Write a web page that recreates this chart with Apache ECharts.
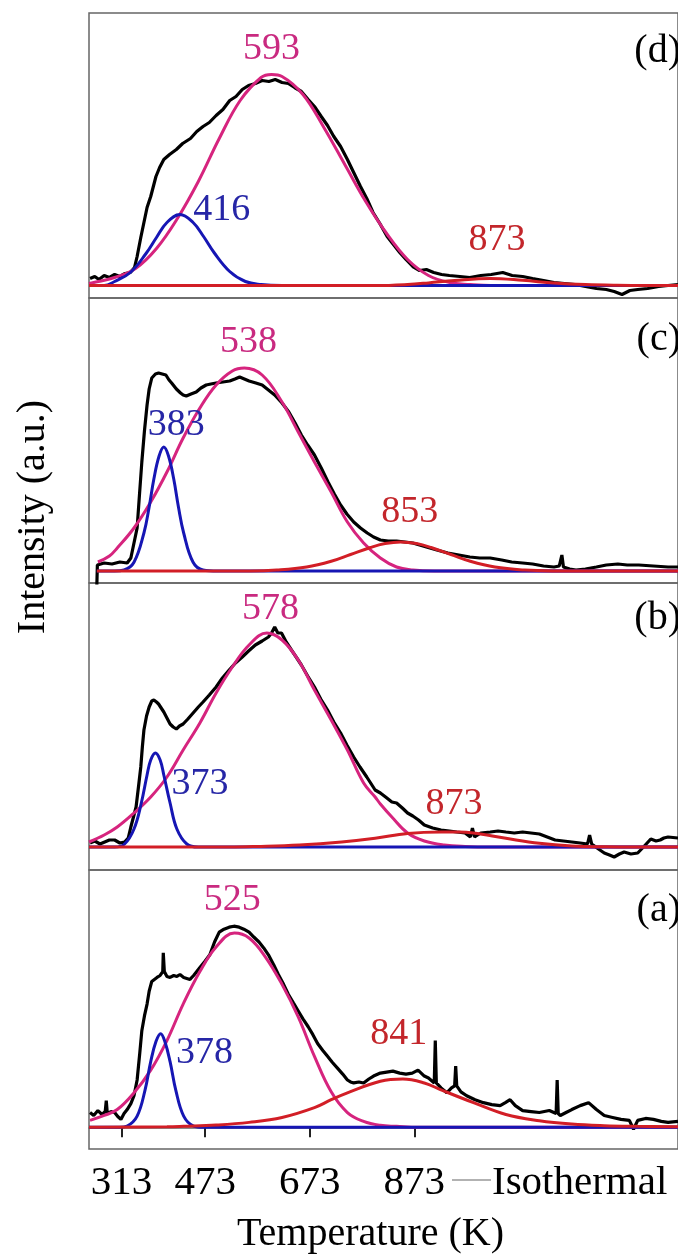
<!DOCTYPE html>
<html>
<head>
<meta charset="utf-8">
<title>TPD deconvolution</title>
<script src="https://cdn.jsdelivr.net/npm/echarts@6/dist/echarts.min.js"></script>
<style>
  html, body { margin: 0; padding: 0; background: #fff; }
  #main { width: 678px; height: 1255px; }
</style>
</head>
<body>
<div id="main"></div>
<script>
// x = temperature (K), y = intensity (a.u., 0 = baseline of each panel)
var T_MIN = 251, T_MAX = 1377;
var tickTemps = [313, 473, 673, 873];
var isoAt = 1189;

// ---- panel (d)
var dExp = [[253,7],[262,9],[270,6],[280,10],[290,8],[300,11],[310,9],[320,12],[330,13],[338,18],[343,29],[350,48],[356,63],[362,78],[369,89],[375,101],[379,109],[386,118],[394,126],[405,131],[418,136],[430,142],[445,147],[457,154],[469,159],[481,163],[494,170],[507,176],[520,185],[532,189],[544,196],[556,200],[569,202],[582,205],[595,204],[607,206],[620,203],[632,202],[644,198],[657,194],[670,186],[682,179],[695,169],[707,160],[719,149],[732,139],[745,126],[757,113],[770,99],[782,87],[794,73],[807,62],[821,49],[833,41],[845,33],[857,26],[870,19],[883,15],[896,16],[910,13],[925,11],[940,10],[960,9],[979,8],[1000,10],[1020,11],[1042,13],[1060,10],[1080,9],[1099,7],[1120,5],[1140,3],[1160,2],[1180,1],[1200,-1],[1221,-3],[1240,-4],[1255,-6],[1270,-9],[1285,-5],[1300,-4],[1319,-3],[1340,-1],[1358,0],[1377,1]];
var dBlue = [[251,0],[280,0],[300,4],[330,13],[360,32],[380,48],[400,63],[425,71],[450,63],[470,49],[490,33],[520,14],[550,4],[580,1],[620,0],[800,0],[1377,0]];
var dMag = [[251,2],[260,3],[300,8],[340,17],[380,37],[420,67],[460,104],[500,147],[540,185],[580,208],[600,211],[620,209],[660,191],[700,158],[740,121],[780,84],[820,52],[860,26],[900,10],[940,3],[980,1],[1020,0],[1200,0],[1377,0]];
var dRed = [[251,0],[600,0],[800,0],[860,1],[900,2.6],[950,5],[1018,7],[1080,5.2],[1140,2.5],[1200,0.9],[1260,0.2],[1320,0],[1377,0]];
var dPeaks = [593, 416, 873];   // magenta, blue, red

// ---- panel (c)
var cExp = [[266,-14],[267,6],[280,8],[295,7],[310,9],[324,8],[331,13],[337,28],[343,43],[348,80],[352,109],[357,140],[362,166],[366,182],[371,193],[378,197],[384,198],[391,197],[398,196],[404,191],[409,188],[418,182],[426,178],[431,176],[437,175],[446,177],[456,179],[465,183],[475,186],[484,187],[494,188],[507,189],[520,190],[530,192],[539,194],[548,192],[557,190],[570,188],[582,186],[594,181],[606,176],[620,168],[633,159],[645,148],[657,136],[669,126],[682,116],[695,103],[708,89],[720,77],[732,66],[744,57],[757,49],[770,43],[783,38],[795,34],[808,31],[823,30],[839,30],[855,29],[870,28],[883,26],[896,24],[916,21],[937,18],[958,16],[979,14],[998,13],[1018,13],[1040,11],[1059,9],[1080,8],[1099,7],[1120,5],[1140,4],[1150,5],[1155,16],[1158,4],[1170,2],[1182,1],[1200,2],[1221,4],[1240,6],[1262,7],[1280,6],[1302,6],[1330,5],[1358,4],[1377,4]];
var cBlue = [[266,0],[300,0],[318,1],[337,8.7],[356,38],[366,64],[375,92],[385,115],[394,124],[403,115],[413,92],[422,64],[432,38],[450,8.7],[469,1],[497,0],[800,0],[1377,0]];
var cMag = [[268,9],[290,15],[305,23],[337,43],[369,69],[400,99],[431,133],[463,163],[494,186],[525,200],[548,203],[582,196],[620,169],[651,139],[682,109],[714,79],[745,49],[776,28],[808,13],[839,4],[870,1],[911,0],[1100,0],[1377,0]];
var cRed = [[266,0],[450,0],[560,0],[610,0.9],[667,3.9],[714,9.7],[751,16.5],[789,23.5],[817,27.4],[847,29],[877,27.4],[905,23.5],[943,16.5],[980,9.7],[1027,3.9],[1084,0.9],[1137,0.1],[1250,0],[1377,0]];
var cPeaks = [538, 383, 853];

// ---- panel (b)
var bExp = [[253,4],[262,6],[272,3],[281,5],[290,7],[300,7],[310,4],[319,5],[326,9],[331,20],[336,30],[341,40],[346,62],[350,80],[353,100],[356,117],[361,131],[366,140],[371,146],[375,147],[380,145],[384,143],[389,139],[394,135],[400,129],[406,123],[412,120],[418,118],[424,121],[431,123],[440,128],[450,134],[460,140],[469,145],[481,152],[494,160],[506,169],[519,177],[531,184],[544,190],[556,196],[569,202],[582,206],[594,210],[600,214],[606,220],[612,214],[619,214],[628,205],[638,197],[647,190],[657,182],[669,171],[682,160],[694,148],[707,137],[719,125],[732,114],[744,102],[757,90],[769,80],[782,70],[798,57],[808,54],[818,50],[830,45],[839,44],[850,39],[860,34],[870,31],[881,27],[892,22],[908,19],[924,17],[940,16],[954,15],[970,14],[980,10],[984,19],[988,10],[1000,14],[1018,15],[1033,16],[1048,15],[1064,14],[1080,15],[1096,14],[1112,13],[1127,10],[1142,7],[1158,6],[1174,5],[1190,4],[1204,3],[1208,12],[1212,3],[1225,-2],[1236,-6],[1246,-8],[1255,-10],[1265,-7],[1274,-5],[1287,-7],[1300,-6],[1311,0],[1325,8],[1335,6],[1343,7],[1350,9],[1358,10],[1377,9]];
var bBlue = [[251,0],[300,0],[319,3],[337,18],[351,44],[362,72],[369,87],[378,94],[387,87],[394,72],[406,44],[419,18],[438,3],[460,0],[800,0],[1377,0]];
var bMag = [[251,5],[280,12],[305,20],[337,34],[369,50],[400,70],[431,97],[463,124],[494,154],[525,180],[557,202],[591,214],[620,207],[651,187],[682,157],[714,127],[745,97],[776,64],[798,50],[808,43],[830,30],[860,14],[892,6],[930,2],[970,0.5],[1020,0],[1377,0]];
var bRed = [[251,0],[450,0],[520,0],[571,0.5],[653,2],[734,5],[798,8.7],[860,13.5],[924,15],[958,15],[986,14],[1048,8.7],[1112,3.7],[1174,1],[1236,0.2],[1300,0],[1377,0]];
var bPeaks = [578, 373, 873];

// ---- panel (a)
var aExp = [[253,15],[260,12],[268,17],[276,13],[282,16],[284,27],[286,14],[293,16],[300,15],[306,11],[312,8],[318,14],[324,18],[331,24],[337,32],[343,48],[348,75],[352,98],[357,113],[362,125],[366,138],[371,148],[376,150],[381,152],[387,154],[392,158],[393,177],[395,158],[400,153],[406,152],[413,154],[419,153],[425,155],[432,152],[438,151],[444,150],[451,154],[457,158],[463,162],[472,168],[482,175],[491,188],[500,198],[509,201],[519,203],[528,204],[538,203],[547,201],[557,198],[566,193],[576,188],[585,182],[594,175],[604,165],[613,155],[623,145],[632,135],[642,126],[651,118],[660,110],[670,102],[679,94],[688,85],[698,78],[707,72],[716,66],[726,60],[736,54],[745,48],[751,46],[757,45],[767,46],[776,45],[786,49],[795,52],[808,55],[820,56],[832,57],[845,55],[857,54],[869,55],[880,58],[892,52],[900,50],[911,45],[913,88],[915,45],[924,40],[935,35],[944,40],[950,42],[952,62],[954,42],[962,36],[973,32],[989,28],[1005,25],[1021,23],[1037,22],[1047,25],[1056,28],[1066,22],[1080,17],[1096,16],[1112,15],[1131,17],[1144,14],[1146,48],[1148,14],[1152,12],[1163,15],[1174,18],[1190,22],[1206,25],[1221,18],[1236,12],[1252,10],[1268,8],[1284,7],[1292,-2],[1300,7],[1315,9],[1330,8],[1345,6],[1358,5],[1377,6]];
var aBlue = [[251,0],[310,0],[324,1.3],[343,11.4],[358,37.5],[369,66.6],[379,87],[388,95],[396,87],[406,66.6],[417,37.5],[432,11.4],[451,1.3],[469,0],[800,0],[1377,0]];
var aMag = [[253,7],[280,12],[305,18],[337,35],[369,58],[400,88],[431,125],[463,158],[494,183],[529,197],[557,192],[588,173],[620,145],[651,112],[682,72],[714,36],[745,15],[776,6],[808,2],[839,1],[880,0],[1100,0],[1377,0]];
var aRed = [[251,0],[400,0.5],[432,1],[494,2.3],[557,5],[620,10],[682,20],[714,28],[745,35],[808,46.7],[851,49],[892,45],[924,38],[986,25],[1048,13],[1112,6.7],[1174,3.3],[1236,1.7],[1300,1],[1377,0.5]];
var aPeaks = [525, 378, 841];

// ---- layout
var FONT = "'Liberation Serif', 'Times New Roman', serif";
var C_EXP = '#000000', C_BLUE = '#1616b4', C_MAG = '#d6247e', C_RED = '#d21e26';
var L_BLUE = '#2626a6', L_MAG = '#c92a80', L_RED = '#c3262b';

var panels = [
  { tag: '(d)', exp: dExp, blue: dBlue, mag: dMag, red: dRed, peaks: dPeaks,
    top: 13, height: 285, y: [-12.5, 272.5], lab: [[600,236],[505,75],[1031,45]], tagY: 51 },
  { tag: '(c)', exp: cExp, blue: cBlue, mag: cMag, red: cRed, peaks: cPeaks,
    top: 298, height: 285, y: [-12, 273], lab: [[556,229],[418,146],[864,59]], tagY: 339 },
  { tag: '(b)', exp: bExp, blue: bBlue, mag: bMag, red: bRed, peaks: bPeaks,
    top: 583, height: 287, y: [-23, 264], lab: [[598,238],[463,63],[949,43]], tagY: 618 },
  { tag: '(a)', exp: aExp, blue: aBlue, mag: aMag, red: aRed, peaks: aPeaks,
    top: 870, height: 283, y: [-22, 261], lab: [[525,231],[472,75],[843,95]], tagY: 910 }
];

var grids = [], xAxes = [], yAxes = [], series = [], graphics = [];

function peakMark(value, pos, color) {
  return {
    symbol: 'circle', symbolSize: 1, silent: true,
    itemStyle: { color: 'transparent' },
    label: { show: true, position: 'inside', formatter: '{c}', color: color,
             fontSize: 38, fontFamily: FONT },
    data: [{ coord: pos, value: value }]
  };
}

panels.forEach(function (p, i) {
  var last = i === panels.length - 1;
  grids.push({ left: 89, width: 599, top: p.top, height: p.height, show: true,
               borderColor: '#666', borderWidth: 1.5, backgroundColor: 'transparent' });
  yAxes.push({ gridIndex: i, type: 'value', min: p.y[0], max: p.y[1], show: false });
  if (!last) {
    xAxes.push({ gridIndex: i, type: 'value', min: T_MIN, max: T_MAX, show: false });
  } else {
    xAxes.push({
      gridIndex: i, type: 'value', min: T_MIN, max: T_MAX,
      name: 'Temperature (K)', nameLocation: 'middle', nameGap: 65,
      nameTextStyle: { fontSize: 40, fontFamily: FONT, color: '#000', padding: [0, 26, 0, 0] },
      axisLine: { show: true, lineStyle: { color: '#666', width: 1.5 } },
      axisTick: { show: true, customValues: tickTemps, length: 10, inside: false,
                  lineStyle: { color: '#222', width: 2 } },
      axisLabel: {
        show: true, customValues: tickTemps.concat([isoAt]), margin: 14,
        fontSize: 41, fontFamily: FONT, color: '#000',
        formatter: function (v) { return v === isoAt ? 'Isothermal' : String(v); }
      },
      splitLine: { show: false }
    });
  }
  var base = { type: 'line', xAxisIndex: i, yAxisIndex: i, showSymbol: false,
               symbol: 'none', animation: false, silent: true };
  series.push(Object.assign({}, base, { name: 'exp ' + p.tag, data: p.exp, z: 2,
    lineStyle: { color: C_EXP, width: 3.2 } }));
  series.push(Object.assign({}, base, { name: 'fit2 ' + p.tag, data: p.mag, smooth: 0.4, z: 3,
    lineStyle: { color: C_MAG, width: 3 }, markPoint: peakMark(p.peaks[0], p.lab[0], L_MAG) }));
  series.push(Object.assign({}, base, { name: 'fit1 ' + p.tag, data: p.blue, smooth: 0.4, z: 4,
    lineStyle: { color: C_BLUE, width: 3 }, markPoint: peakMark(p.peaks[1], p.lab[1], L_BLUE) }));
  series.push(Object.assign({}, base, { name: 'fit3 ' + p.tag, data: p.red, smooth: 0.4, z: 5,
    lineStyle: { color: C_RED, width: 3 }, markPoint: peakMark(p.peaks[2], p.lab[2], L_RED) }));
  graphics.push({ type: 'text', x: 681, y: p.tagY, z: 100,
    style: { text: p.tag, fill: '#000', font: '40px ' + FONT,
             textAlign: 'right', align: 'right', textVerticalAlign: 'middle', verticalAlign: 'middle' } });
});

// y axis title and the small dash before "Isothermal"
graphics.push({ type: 'text', x: 33, y: 517, rotation: Math.PI / 2, z: 100,
  style: { text: 'Intensity (a.u.)', fill: '#000', font: '40px ' + FONT,
           textAlign: 'center', align: 'center', textVerticalAlign: 'middle', verticalAlign: 'middle' } });
graphics.push({ type: 'line', z: 100, shape: { x1: 452, y1: 1180, x2: 491, y2: 1180 },
  style: { stroke: '#999', lineWidth: 1.5 } });

var myChart = echarts.init(document.getElementById('main'), null, { renderer: 'canvas' });
myChart.setOption({
  animation: false,
  backgroundColor: '#fff',
  grid: grids,
  xAxis: xAxes,
  yAxis: yAxes,
  series: series,
  graphic: graphics
});
</script>
</body>
</html>
